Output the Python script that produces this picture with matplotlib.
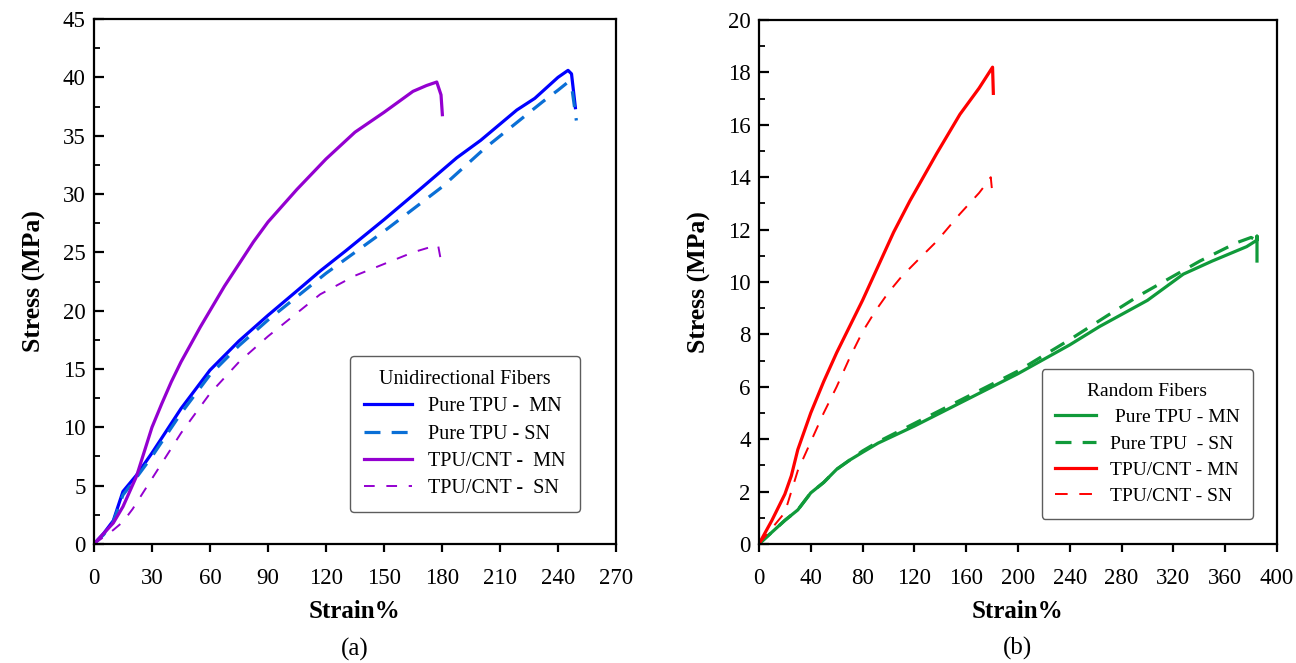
import matplotlib
matplotlib.use('Agg')
import matplotlib.pyplot as plt
from matplotlib.ticker import MultipleLocator

plt.rcParams['font.family'] = ['Liberation Serif', 'DejaVu Serif']

# (a) Unidirectional fibers
uni_pure_mn_x = [0, 5, 10, 15, 22, 30, 45, 60, 75, 90, 105, 117, 130, 150, 170, 187.6, 200, 218.7, 228, 240, 245.2, 247, 249]
uni_pure_mn_y = [0, 0.9, 2.0, 4.5, 5.9, 7.8, 11.6, 14.9, 17.4, 19.6, 21.7, 23.4, 25.1, 27.8, 30.6, 33.1, 34.6, 37.2, 38.2, 40.0, 40.6, 40.3, 37.4]
uni_pure_sn_x = [0, 5, 10, 15, 22, 30, 45, 60, 75, 90, 105, 120, 150, 180, 202, 217, 232, 240, 244.5, 247, 249.5]
uni_pure_sn_y = [0, 0.8, 1.9, 4.2, 5.7, 7.5, 11.2, 14.5, 17.0, 19.2, 21.2, 23.2, 26.8, 30.6, 33.9, 35.9, 37.9, 38.9, 39.5, 39.3, 36.3]
uni_cnt_mn_x = [0, 5, 10, 15, 22, 30, 35, 40, 45, 50, 55, 60, 67.5, 75, 82.5, 90, 105, 120, 135, 150, 165, 172, 177.3, 179.5, 180.2]
uni_cnt_mn_y = [0, 0.9, 1.8, 3.2, 5.8, 10.0, 12.0, 13.9, 15.6, 17.1, 18.6, 20.0, 22.1, 24.0, 25.9, 27.6, 30.4, 33.0, 35.3, 37.0, 38.8, 39.3, 39.6, 38.5, 36.8]
uni_cnt_sn_x = [0, 5, 10, 15, 20, 25, 30, 45, 60, 75, 90, 105, 117, 135, 150, 165, 175, 178, 180]
uni_cnt_sn_y = [0, 0.6, 1.2, 1.9, 3.0, 4.3, 5.6, 9.5, 12.9, 15.6, 17.8, 19.8, 21.4, 23.0, 24.0, 25.0, 25.5, 25.6, 23.8]

# (b) Random fibers
rnd_pure_mn_x = [0, 10, 20, 30, 40, 50, 60, 70, 80, 92, 120, 160, 200, 240, 263, 300, 327.7, 350, 376.6, 384.6, 384.6, 384.6]
rnd_pure_mn_y = [0, 0.45, 0.9, 1.3, 1.95, 2.35, 2.85, 3.2, 3.5, 3.85, 4.5, 5.5, 6.5, 7.6, 8.3, 9.3, 10.3, 10.8, 11.35, 11.6, 11.75, 10.8]
rnd_pure_sn_x = [0, 10, 20, 30, 40, 50, 60, 70, 80, 92, 120, 160, 200, 240, 268.5, 294.2, 340.5, 368.9, 380, 384]
rnd_pure_sn_y = [0, 0.45, 0.9, 1.3, 1.95, 2.35, 2.85, 3.2, 3.55, 3.9, 4.6, 5.6, 6.6, 7.8, 8.7, 9.5, 10.8, 11.5, 11.7, 11.6]
rnd_cnt_mn_x = [0, 10, 20, 25, 30, 40, 50, 60, 70, 80, 92, 104, 116.6, 137.2, 155.2, 170, 180.4, 181]
rnd_cnt_mn_y = [0, 0.9, 1.9, 2.6, 3.6, 5.0, 6.2, 7.3, 8.3, 9.3, 10.6, 11.9, 13.1, 14.9, 16.4, 17.4, 18.2, 17.2]
rnd_cnt_sn_x = [0, 10, 20, 25, 30, 40, 50, 60, 70, 80, 90, 100, 110, 123, 137.2, 155.2, 170, 177, 179, 180.4]
rnd_cnt_sn_y = [0, 0.6, 1.2, 2.0, 2.8, 3.9, 5.0, 6.0, 7.1, 8.1, 8.9, 9.6, 10.2, 10.85, 11.55, 12.6, 13.4, 13.85, 14.0, 13.3]

fig = plt.figure(figsize=(12.96, 6.63), dpi=100)
ax1 = fig.add_axes([0.0725, 0.1795, 0.4028, 0.7918])
ax2 = fig.add_axes([0.5856, 0.1795, 0.3997, 0.7903])

blue = '#0000ff'
lblue = '#0a6fd6'
purple = '#9400d0'
green = '#109a3a'
red = '#ff0000'

ax1.plot(uni_pure_mn_x, uni_pure_mn_y, color=blue, lw=2.3, label='Pure TPU -  MN')
ax1.plot(uni_pure_sn_x, uni_pure_sn_y, color=lblue, lw=2.3, dashes=(5, 3.5), label='Pure TPU - SN')
ax1.plot(uni_cnt_mn_x, uni_cnt_mn_y, color=purple, lw=2.3, label='TPU/CNT -  MN')
ax1.plot(uni_cnt_sn_x, uni_cnt_sn_y, color=purple, lw=1.4, dashes=(5.5, 6), label='TPU/CNT -  SN')

ax2.plot(rnd_pure_mn_x, rnd_pure_mn_y, color=green, lw=2.3, label=' Pure TPU - MN')
ax2.plot(rnd_pure_sn_x, rnd_pure_sn_y, color=green, lw=2.3, dashes=(5, 3.5), label='Pure TPU  - SN')
ax2.plot(rnd_cnt_mn_x, rnd_cnt_mn_y, color=red, lw=2.3, label='TPU/CNT - MN')
ax2.plot(rnd_cnt_sn_x, rnd_cnt_sn_y, color=red, lw=1.4, dashes=(6.5, 6), label='TPU/CNT - SN')

ax1.set_xlim(0, 270)
ax1.set_ylim(0, 45)
ax1.xaxis.set_major_locator(MultipleLocator(30))
ax1.yaxis.set_major_locator(MultipleLocator(5))
ax1.yaxis.set_minor_locator(MultipleLocator(2.5))

ax2.set_xlim(0, 400)
ax2.set_ylim(0, 20)
ax2.xaxis.set_major_locator(MultipleLocator(40))
ax2.yaxis.set_major_locator(MultipleLocator(2))
ax2.yaxis.set_minor_locator(MultipleLocator(1))

for ax, cap in [(ax1, '(a)'), (ax2, '(b)')]:
    for s in ax.spines.values():
        s.set_linewidth(1.6)
    ax.tick_params(axis='y', which='major', direction='in', length=7, width=1.6, labelsize=16.5, pad=6)
    ax.tick_params(axis='y', which='minor', direction='in', length=4, width=1.3)
    ax.tick_params(axis='x', which='major', direction='out', length=6, width=1.6, labelsize=16.5, pad=11)
    ax.set_ylabel('Stress (MPa)', fontsize=18.5, fontweight='bold', labelpad=12)
    ax.set_xlabel('Strain%', fontsize=18, fontweight='bold', labelpad=8)
    ax.text(0.5, -0.2, cap, transform=ax.transAxes, ha='center', va='center', fontsize=18)

leg1 = ax1.legend(title='Unidirectional Fibers', loc='lower right', bbox_to_anchor=(0.931, 0.061),
                  borderaxespad=0, fontsize=14.5, title_fontsize=14.5, frameon=True, fancybox=True,
                  edgecolor='#333333', handlelength=2.4, handletextpad=0.8, labelspacing=0.4, borderpad=0.7)
leg1.get_frame().set_linewidth(1.0)
leg2 = ax2.legend(title='Random Fibers', loc='lower right', bbox_to_anchor=(0.954, 0.048),
                  borderaxespad=0, fontsize=14, title_fontsize=14, frameon=True, fancybox=True,
                  edgecolor='#333333', handlelength=2.1, handletextpad=0.7, labelspacing=0.45, borderpad=0.7)
leg2.get_frame().set_linewidth(1.0)

fig.savefig('out.png', dpi=100)
